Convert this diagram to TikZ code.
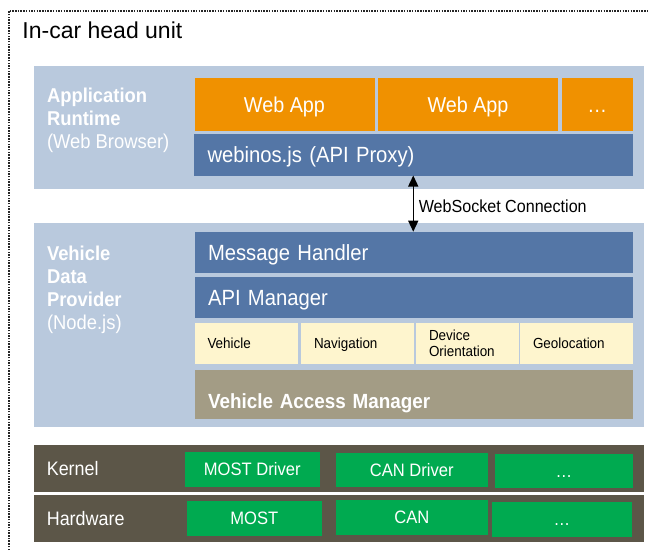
\documentclass[tikz,border=0pt]{standalone}
\usepackage{fontspec}
\setmainfont{Liberation Sans}[FakeStretch=0.92]
\newfontfamily\titlefont{Liberation Sans}
\usepackage{tikz}
\usetikzlibrary{arrows.meta}

\definecolor{panelblue}{RGB}{185,201,221}
\definecolor{apporange}{RGB}{240,145,0}
\definecolor{barblue}{RGB}{84,118,166}
\definecolor{apiyellow}{RGB}{254,245,206}
\definecolor{accessgray}{RGB}{163,156,133}
\definecolor{osbrown}{RGB}{92,86,72}
\definecolor{drivergreen}{RGB}{0,170,80}

\begin{document}
\begin{tikzpicture}[x=1pt, y=-1pt,
	every node/.style={inner sep=0pt, outer sep=0pt},
	panel/.style={fill=panelblue, minimum width=610pt},
	appbox/.style={fill=apporange, text=white, minimum height=52.4pt, text height=15.4pt, text depth=0pt, font=\fontsize{21.5}{25}\selectfont},
	bluebar/.style={fill=barblue, text=white, text width=411.5pt, inner xsep=13.5pt, align=left, minimum height=41.3pt, text height=15.8pt, text depth=0pt, font=\fontsize{22}{26}\selectfont},
	cellbase/.style={fill=apiyellow, inner xsep=13pt, align=left, minimum height=41pt, font=\fontsize{14.6}{15.6}\selectfont},
	apicell/.style={cellbase, text height=10.5pt, text depth=0pt},
	accessbar/.style={fill=accessgray, text=white, text width=411.5pt, inner xsep=13.5pt, align=left, minimum height=48.7pt, text height=29pt, text depth=0pt, font=\bfseries\fontsize{20.5}{24}\selectfont},
	osbar/.style={fill=osbrown, text=white, text width=584.4pt, inner xsep=12.8pt, align=left, minimum height=46.7pt, text height=14pt, text depth=0pt, font=\fontsize{19.5}{23}\selectfont},
	driver/.style={fill=drivergreen, text=white, minimum height=34.7pt, text height=12.9pt, text depth=0pt, font=\fontsize{18}{22}\selectfont},
	sidelabel/.style={anchor=west, align=left, text=white, font=\fontsize{20}{23}\selectfont},
	wsarrow/.style={{Triangle[width=10pt,length=11pt]}-{Triangle[width=10pt,length=11pt]}, line width=1.4pt},
	wslabel/.style={right=5.5pt, yshift=-3pt, font=\fontsize{17.5}{20}\selectfont},
	frameline/.style={line width=1.6pt, black!85, dash pattern=on 1.5pt off 1.2pt}
	]
	\path[fill=white, use as bounding box] (0, 0) rectangle (649, 550);

	\draw[frameline] (8.8, 550) -- (8.8, 10.8) -- (649, 10.8);
	\node[anchor=base west, font=\titlefont\fontsize{23}{27}\selectfont] (title) at (22.5, 38.5) {In-car head unit};

	\node[panel, minimum height=123pt] (runtime) at (339, 127.5) {};
	\node[sidelabel] (runtimelabel) at (47, 120.5) {\textbf{Application}\\\textbf{Runtime}\\(Web Browser)};
	\node[appbox, minimum width=180pt] (app1) at (284.5, 104.5) {Web App};
	\node[appbox, minimum width=180pt] (app2) at (468, 104.5) {Web App};
	\node[appbox, minimum width=70.5pt] (app3) at (597.25, 104.5) {…};
	\node[bluebar] (webinos) at (413.25, 154.85) {webinos.js (API Proxy)};

	\node[panel, minimum height=204pt] (provider) at (339, 325) {};
	\node[sidelabel] (providerlabel) at (47, 290) {\textbf{Vehicle}\\\textbf{Data}\\\textbf{Provider}\\(Node.js)};
	\node[bluebar] (msg) at (413.75, 252.35) {Message Handler};
	\node[bluebar, minimum height=41pt] (api) at (413.75, 297.5) {API Manager};
	\node[apicell, text width=77.5pt] (vehicle) at (246.25, 343.5) {Vehicle};
	\node[apicell, text width=87pt] (navigation) at (357.5, 343.5) {Navigation};
	\node[cellbase, text width=76.6pt] (orientation) at (467.3, 343.5) {Device\\Orientation};
	\node[apicell, text width=87pt] (geolocation) at (576.5, 343.5) {Geolocation};
	\node[accessbar] (access) at (413.75, 394.35) {Vehicle Access Manager};

	\path (webinos.south) edge[wsarrow] node[wslabel] {WebSocket Connection} (webinos.south |- msg.north);

	\node[osbar] (kernel) at (339, 468.35) {Kernel};
	\node[driver, minimum width=134.5pt] (mostdrv) at (252.25, 469.35) {MOST Driver};
	\node[driver, minimum width=151.6pt] (candrv) at (411.8, 469.85) {CAN Driver};
	\node[driver, minimum width=138.4pt, minimum height=33.7pt] (moredrv) at (563.8, 470.85) {…};

	\node[osbar] (hardware) at (339, 518.35) {Hardware};
	\node[driver, minimum width=134.6pt] (most) at (254.3, 518.35) {MOST};
	\node[driver, minimum width=151.6pt, minimum height=35pt] (can) at (411.8, 517.5) {CAN};
	\node[driver, minimum width=140.3pt, minimum height=35pt] (morehw) at (561.85, 519.5) {…};

\end{tikzpicture}
\end{document}
